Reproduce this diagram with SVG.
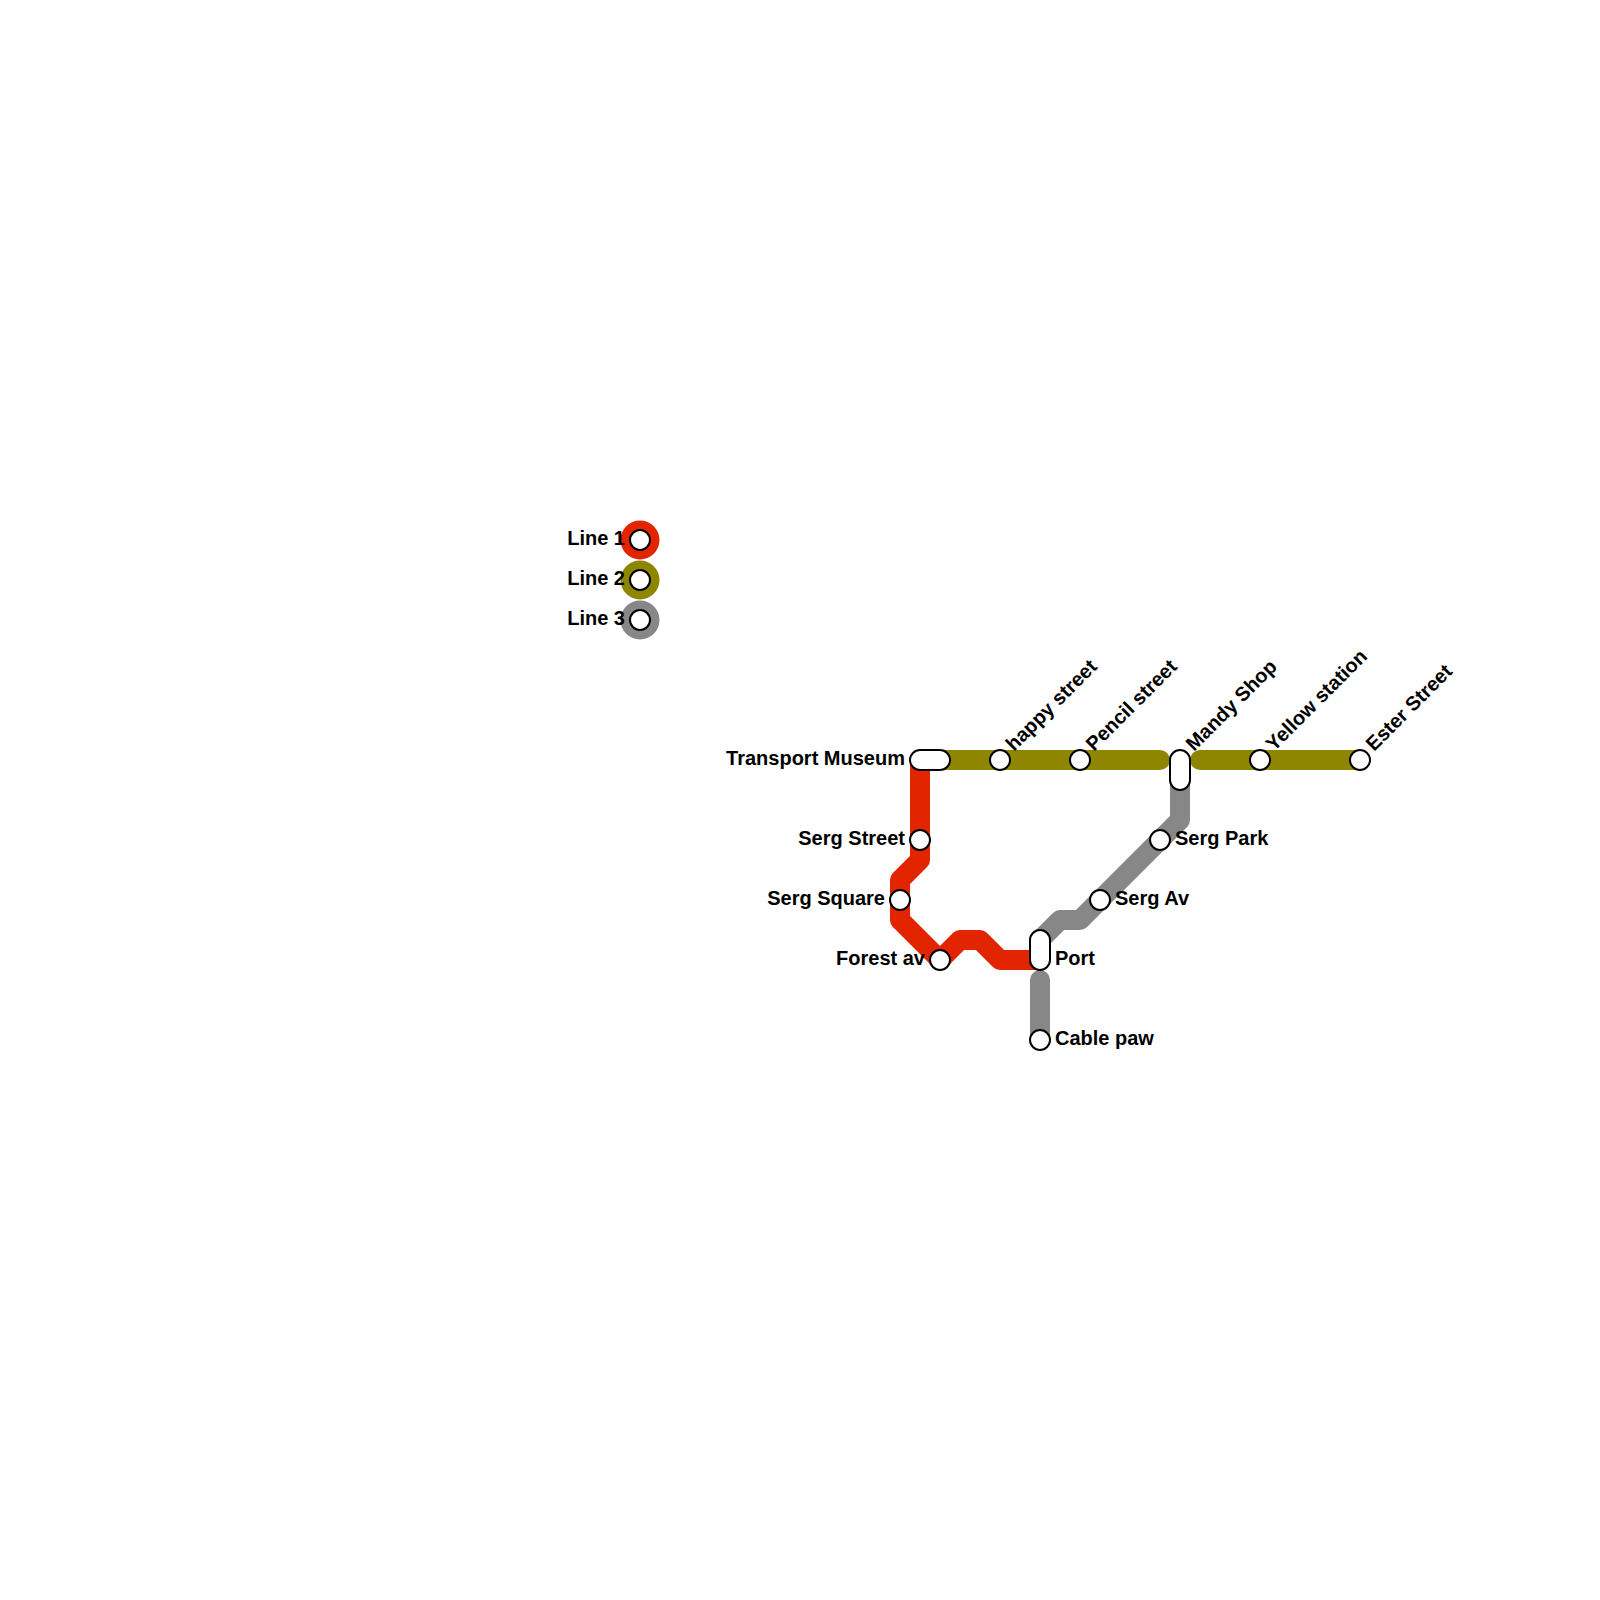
<svg xmlns="http://www.w3.org/2000/svg" width="1600" height="1600" viewBox="0 0 1600 1600">
<style>
.line{fill:none;stroke-width:20;stroke-linecap:round;stroke-linejoin:round}
.red{stroke:#e32400}.olive{stroke:#8e8500}.grey{stroke:#878787}
.st{fill:#fff;stroke:#000;stroke-width:2}
text{font-family:"Liberation Sans",Arial,sans-serif;font-size:20px;font-weight:bold;fill:#000}
.e{text-anchor:end}
</style>
<rect width="1600" height="1600" fill="#fff"/>
<g id="connectors">
<path class="line olive" d="M940 760H1160"/>
<path class="line olive" d="M1200 760H1360"/>
<path class="line red" d="M920 760V860L900 880V920L940 960L960 940H980L1000 960H1040"/>
<path class="line grey" d="M1180 780V820L1100 900L1080 920H1060L1040 940"/>
<path class="line grey" d="M1040 980V1040"/>
</g>
<g id="legend-line-1"><circle cx="640" cy="540" r="19.5" fill="#e32400"/><circle class="st" cx="640" cy="540" r="10"/><text class="e" x="625" y="545">Line 1</text></g>
<g id="legend-line-2"><circle cx="640" cy="580" r="19.5" fill="#8e8500"/><circle class="st" cx="640" cy="580" r="10"/><text class="e" x="625" y="585">Line 2</text></g>
<g id="legend-line-3"><circle cx="640" cy="620" r="19.5" fill="#878787"/><circle class="st" cx="640" cy="620" r="10"/><text class="e" x="625" y="625">Line 3</text></g>
<g id="transport-museum"><rect class="st" x="910" y="750" width="40" height="20" rx="10"/><text class="e" x="905" y="765">Transport Museum</text></g>
<g id="happy-street"><circle class="st" cx="1000" cy="760" r="10"/><text transform="translate(1014 752) rotate(-45)">happy street</text></g>
<g id="pencil-street"><circle class="st" cx="1080" cy="760" r="10"/><text transform="translate(1094 752) rotate(-45)">Pencil street</text></g>
<g id="mandy-shop"><rect class="st" x="1170" y="750" width="20" height="40" rx="10"/><text transform="translate(1194 752) rotate(-45)">Mandy Shop</text></g>
<g id="yellow-station"><circle class="st" cx="1260" cy="760" r="10"/><text transform="translate(1274 752) rotate(-45)">Yellow station</text></g>
<g id="ester-street"><circle class="st" cx="1360" cy="760" r="10"/><text transform="translate(1374 752) rotate(-45)">Ester Street</text></g>
<g id="serg-street"><circle class="st" cx="920" cy="840" r="10"/><text class="e" x="905" y="845">Serg Street</text></g>
<g id="serg-square"><circle class="st" cx="900" cy="900" r="10"/><text class="e" x="885" y="905">Serg Square</text></g>
<g id="forest-av"><circle class="st" cx="940" cy="960" r="10"/><text class="e" x="925" y="965">Forest av</text></g>
<g id="port"><rect class="st" x="1030" y="930" width="20" height="40" rx="10"/><text x="1055" y="965">Port</text></g>
<g id="cable-paw"><circle class="st" cx="1040" cy="1040" r="10"/><text x="1055" y="1045">Cable paw</text></g>
<g id="serg-av"><circle class="st" cx="1100" cy="900" r="10"/><text x="1115" y="905">Serg Av</text></g>
<g id="serg-park"><circle class="st" cx="1160" cy="840" r="10"/><text x="1175" y="845">Serg Park</text></g>
</svg>
